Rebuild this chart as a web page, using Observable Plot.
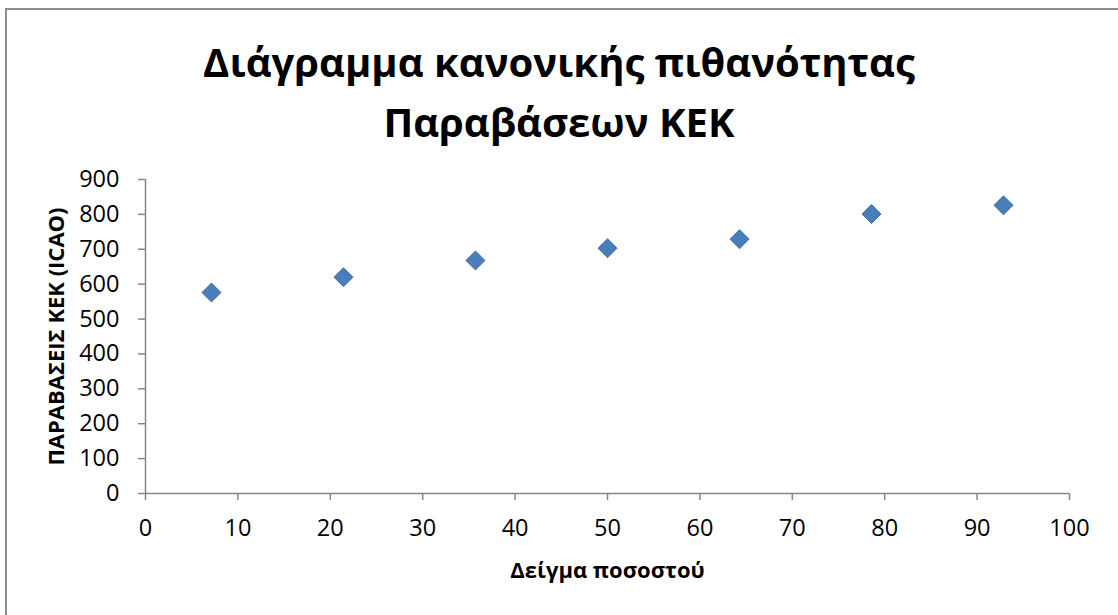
<!DOCTYPE html>
<html>
<head>
<meta charset="utf-8">
<script src="https://cdn.jsdelivr.net/npm/d3@7"></script>
<script src="https://cdn.jsdelivr.net/npm/@observablehq/plot@0.6"></script>
<style>
  html, body { margin: 0; padding: 0; background: #fff; overflow: hidden; }
  #wrap { position: relative; width: 1118px; height: 615px; font-family: "Open Sans", sans-serif; }
  #frame { position: absolute; left: 5px; top: 8px; width: 1300px; height: 800px;
           border-left: 2px solid #8e8e8e; border-top: 2px solid #8e8e8e; box-sizing: border-box; pointer-events: none; }
  #title { height: 160px; box-sizing: border-box; padding-top: 32px; text-align: center;
           font-weight: 700; font-size: 40px; line-height: 60px; color: #000; }
  #title span { display: inline-block; }
  #chart svg { display: block; }
</style>
</head>
<body>
<div id="wrap">
  <div id="frame"></div>
  <div id="title"><span>Διάγραμμα κανονικής πιθανότητας</span><br><span>Παραβάσεων ΚΕΚ</span></div>
  <div id="chart"></div>
</div>
<script>
// Data
const samplePercent = [7.14, 21.43, 35.71, 50, 64.29, 78.57, 92.86];
const violations = [576, 620, 668, 703, 729, 801, 826];
const xTicks = [0, 10, 20, 30, 40, 50, 60, 70, 80, 90, 100];
const yTicks = [0, 100, 200, 300, 400, 500, 600, 700, 800, 900];
const xLabel = "Δείγμα ποσοστού";
const yLabel = "ΠΑΡΑΒΑΣΕΙΣ ΚΕΚ (ICAO)";

const points = samplePercent.map((x, i) => ({x, y: violations[i]}));

const squareDiamond = {
  draw(context, size) {
    const h = Math.sqrt(size / Math.PI);
    context.moveTo(0, -h);
    context.lineTo(h, 0);
    context.lineTo(0, h);
    context.lineTo(-h, 0);
    context.closePath();
  }
};

const axisGray = "#868686";

const chart = Plot.plot({
  width: 1118,
  height: 455,
  marginLeft: 145,
  marginRight: 49,
  marginTop: 19,
  marginBottom: 122,
  style: { fontFamily: "'Open Sans', sans-serif", background: "transparent", overflow: "visible" },
  x: { domain: [0, 100] },
  y: { domain: [0, 900] },
  marks: [
    Plot.axisY(yTicks, { tickSize: 7, tickPadding: 19, fontSize: 23.5, stroke: axisGray, fill: "#000", strokeWidth: 1.5, label: null }),
    Plot.axisX(xTicks, { tickSize: 7, tickPadding: 19, fontSize: 23.5, stroke: axisGray, fill: "#000", strokeWidth: 1.5, label: null }),
    Plot.ruleX([0], { stroke: axisGray, strokeWidth: 1.5 }),
    Plot.ruleY([0], { stroke: axisGray, strokeWidth: 1.5 }),
    Plot.text([yLabel], { frameAnchor: "left", textAnchor: "middle", lineAnchor: "middle", rotate: -90, dx: -89, fontWeight: "bold", fontSize: 22, fill: "#000" }),
    Plot.text([xLabel], { frameAnchor: "bottom", textAnchor: "middle", lineAnchor: "middle", dy: 77, fontWeight: "bold", fontSize: 22, fill: "#000" }),
    Plot.dot(points, { x: "x", y: "y", symbol: squareDiamond, r: 9.5, fill: "#4a7ebb", stroke: "#3f70aa", strokeWidth: 1 })
  ]
});
document.getElementById("chart").appendChild(chart);
</script>
</body>
</html>
